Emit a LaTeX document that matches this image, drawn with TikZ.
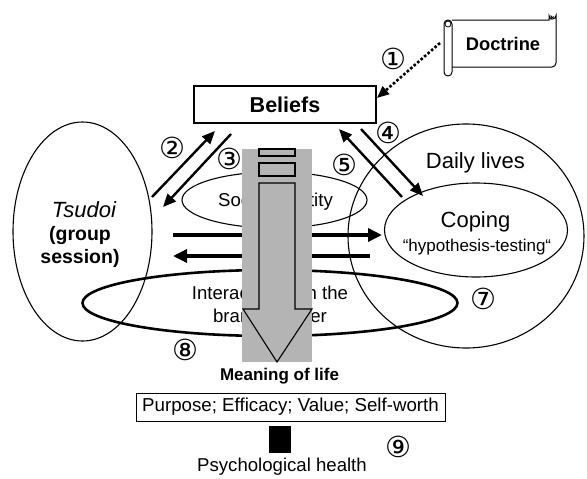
\documentclass[tikz,border=0pt]{standalone}
\usepackage{fontspec}
\setmainfont{Liberation Sans}
\newfontfamily\circfont{DejaVu Sans}
\usetikzlibrary{arrows.meta,shapes.geometric}
\definecolor{arrowgray}{RGB}{180,180,180}
\begin{document}
\begin{tikzpicture}[x=1pt,y=-1pt,
  lbl/.style={font=\fontsize{18.6}{22}\selectfont, inner sep=0pt},
  lblbig/.style={font=\fontsize{22}{24}\selectfont, inner sep=0pt},
  num/.style={font=\circfont\fontsize{29}{30}\selectfont, inner sep=0pt},
  thinell/.style={draw, ellipse, inner sep=0pt, line width=1.1pt},
  dar/.style={line width=2.4pt, -{Triangle[length=13pt,width=11pt]}},
  har/.style={line width=3.4pt, -{Triangle[length=14pt,width=13pt]}},
]
\useasboundingbox (0,0) rectangle (587,479);

% ellipses
\node[thinell, minimum width=139pt, minimum height=219pt] (tsudoi) at (82.5,231.5) {};
\node[thinell, minimum width=236pt, minimum height=224pt] (daily) at (466,236) {};
\node[thinell, minimum width=183pt, minimum height=94pt] (coping) at (476,230) {};
\node[thinell, minimum width=185pt, minimum height=56pt] (social) at (274.5,200) {};
\node[draw, ellipse, inner sep=0pt, line width=2.6pt, minimum width=375pt, minimum height=66pt] (inter) at (270,303) {};

% texts in ellipses
\node[lblbig, font=\fontsize{22}{24}\selectfont\itshape] (tsudoitxt) at (84,210) {Tsudoi};
\node[font=\fontsize{19.5}{23}\selectfont\bfseries, inner sep=0pt, align=center] (grouptxt) at (80,247) {(group\\session)};
\node[lblbig] (dailytxt) at (475.5,163) {Daily lives};
\node[lblbig] (copingtxt) at (475.5,222) {Coping};
\node[lbl, font=\fontsize{17}{20}\selectfont] (hyptxt) at (477,247) {“hypothesis-testing“};
\node[lbl] (socialtxt) at (275.5,202) {Social identity};
\node[lbl, align=center, font=\fontsize{18.6}{23}\selectfont] (intertxt) at (270,304) {Interaction with the\\branch leader};

% Beliefs
\node[draw, line width=1.1pt, minimum width=182pt, minimum height=37pt, inner sep=0pt,
      font=\fontsize{21.5}{24}\selectfont\bfseries] (beliefs) at (285,104.5) {Beliefs};

% Doctrine scroll
\draw[line width=1pt, fill=white] (452,20) -- (549,20) -- (549,15.5) arc[start angle=180,end angle=0,radius=3.5]
  -- (556,63) arc[start angle=0,end angle=90,radius=4] -- (452,67);
\draw[line width=0.8pt] (551,20) -- (551,16) arc[start angle=180,end angle=20,radius=1.6];
\draw[line width=1pt, fill=white, rounded corners=4pt] (444,20) rectangle (452,76);
\draw[line width=0.8pt] (448,24) circle[radius=3];
\node[font=\fontsize{18.3}{20}\selectfont\bfseries, inner sep=0pt] (doctrine) at (503,44) {Doctrine};

% connectors
\coordinate (dotstart) at (440,43);
\coordinate (dotend) at (377,98);
\draw[line width=2.6pt, dotted, -{Triangle[length=12pt,width=10pt]}] (dotstart) -- (dotend);

\coordinate (a2s) at (152,197); \coordinate (a2e) at (215,131);
\coordinate (a3s) at (231,134); \coordinate (a3e) at (163,207);
\coordinate (a4s) at (361,129); \coordinate (a4e) at (423,196);
\coordinate (a5s) at (402,197); \coordinate (a5e) at (339,129);
\draw[dar] (a2s) -- (a2e);
\draw[dar] (a3s) -- (a3e);
\draw[dar] (a4s) -- (a4e);
\draw[dar] (a5s) -- (a5e);

\coordinate (h1s) at (173,235); \coordinate (h1e) at (382,235);
\coordinate (h2s) at (370,256); \coordinate (h2e) at (173,256);
\draw[har] (h1s) -- (h1e);
\draw[har] (h2s) -- (h2e);

% circled numbers
\node[num] (n1) at (393,59) {①};
\node[num] (n2) at (172,148) {②};
\node[num] (n3) at (229,159) {③};
\node[num] (n4) at (388,133) {④};
\node[num] (n5) at (344,165) {⑤};
\node[num] (n7) at (483,299) {⑦};
\node[num] (n8) at (185,350) {⑧};
\node[num] (n9) at (398,447) {⑨};

% big gray arrow
\fill[arrowgray] (242,149) rectangle (312,362);
\draw[line width=1.1pt, fill=arrowgray] (259,149) rectangle (295,156);
\draw[line width=1.1pt, fill=arrowgray] (259,163) rectangle (295,176);
\draw[line width=1.1pt, fill=arrowgray, line join=miter]
  (259,183) -- (295,183) -- (295,309) -- (312,309) -- (277,362) -- (243,309) -- (259,309) -- cycle;

% bottom
\node[font=\fontsize{17}{20}\selectfont\bfseries, inner sep=0pt] (meaning) at (279.5,376) {Meaning of life};
\node[draw, line width=1pt, minimum width=309pt, minimum height=28pt, inner sep=0pt,
      font=\fontsize{18.7}{21}\selectfont] (purpose) at (290.5,407) {Purpose; Efficacy; Value; Self-worth};
\fill (269,426) rectangle (291,453);
\node[lbl] (health) at (282,467) {Psychological health};
\end{tikzpicture}
\end{document}
